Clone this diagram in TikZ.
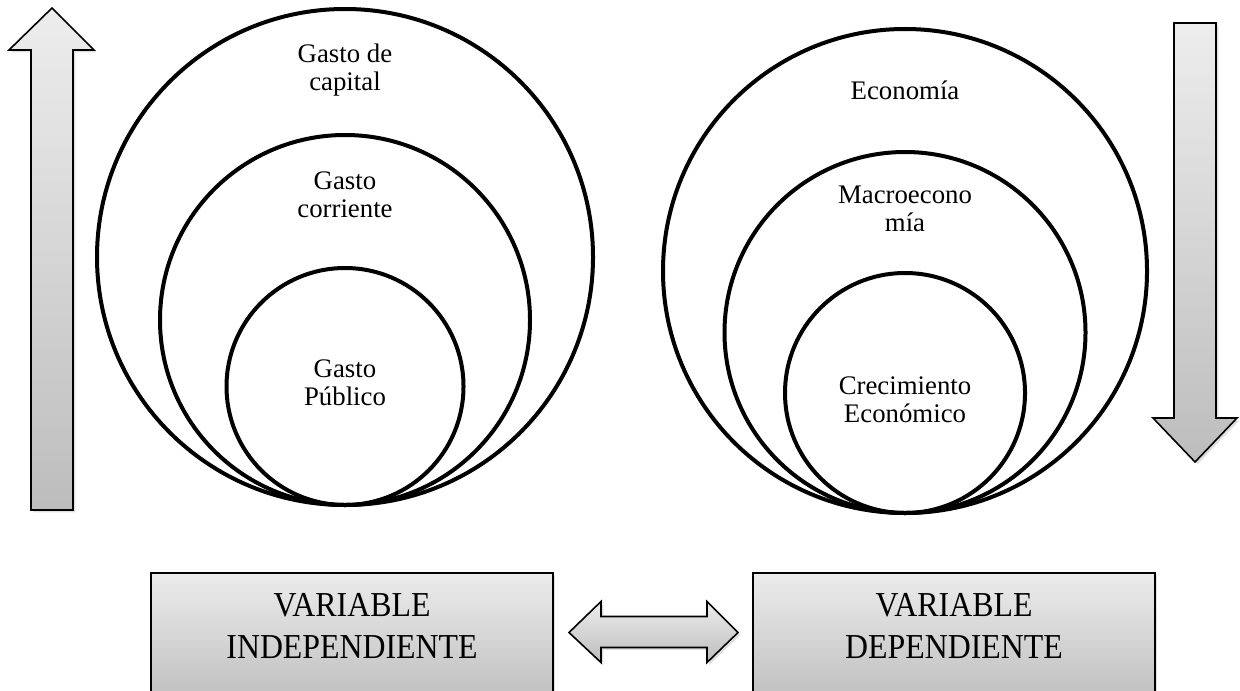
\documentclass[tikz,border=0pt]{standalone}
\usepackage{fontspec}
\setmainfont{Liberation Serif}
\newfontfamily\textofont{Liberation Serif}
\newfontfamily\cajafont[FakeStretch=0.91]{Liberation Serif}
\usetikzlibrary{calc,shadows}

\begin{document}
\begin{tikzpicture}[x=0.5pt, y=-0.5pt,
    aro/.style={draw=black, line width=2pt},
    etiqueta/.style={align=center, inner sep=0pt, font=\textofont\fontsize{13.4}{14}\selectfont},
    flecha/.style={draw=black, line width=0.8pt, line join=miter, top color=gray!14, bottom color=gray!52,
        drop shadow={opacity=0.25, shadow xshift=1.2pt, shadow yshift=-1.2pt}},
    caja/.style={rectangle, draw=black, line width=0.85pt, outer sep=0pt, minimum width=201pt, minimum height=59.5pt,
        top color=gray!15, bottom color=gray!48, drop shadow={opacity=0.25, shadow xshift=1.2pt, shadow yshift=-1.2pt}},
    cajatexto/.style={align=center, inner sep=0pt, font=\cajafont\fontsize{17.5}{21}\selectfont}]
    % 画布大小
    \path[use as bounding box, clip] (0,0) rectangle (1240,690);

    % 左边向上的箭头
    \draw[flecha] (52,8) -- (94,50) -- (73,50) -- (73,510) -- (31,510) -- (31,50) -- (9,50) -- cycle;

    % 右边向下的箭头
    \draw[flecha] (1174,23) -- (1216,23) -- (1216,418) -- (1237,418) -- (1195,462) -- (1153,418) -- (1174,418) -- cycle;

    % 左边的三个圆
    \draw[aro] (345,257) circle[radius=248];
    \draw[aro] (345,320) circle[radius=185];
    \draw[aro] (345,386.5) circle[radius=118.5];

    % 右边的三个圆
    \draw[aro] (905,271) circle[radius=242];
    \draw[aro] (905,332.5) circle[radius=180.5];
    \draw[aro] (905,393) circle[radius=120];

    % 圆里的文字
    \node[etiqueta] (capital) at (345,70) {Gasto de\\capital};
    \node[etiqueta] (corriente) at (345,195) {Gasto\\corriente};
    \node[etiqueta] (publico) at (345,383) {Gasto\\Público};
    \node[etiqueta] (economia) at (905,90) {Economía};
    \node[etiqueta] (macro) at (905,209) {Macroecono\\mía};
    \node[etiqueta] (crecimiento) at (905,400) {Crecimiento\\Económico};

    % 下面的两个方框
    \node[caja] (indep) at (352,632.5) {};
    \node[caja] (dep) at (954,632.5) {};
    \node[cajatexto] (indeptxt) at (352,626) {VARIABLE\\INDEPENDIENTE};
    \node[cajatexto] (deptxt) at (954,626) {VARIABLE\\DEPENDIENTE};

    % 两个方框之间的双向箭头
    \coordinate (p) at ($(indep.east)+(16,0)$);
    \coordinate (q) at ($(dep.west)+(-15,0)$);
    \draw[flecha] (p) -- ++(32,-31) -- ++(0,15) -- ($(q)+(-31,-16)$) -- ++(0,-15) -- (q)
        -- ++(-31,30) -- ++(0,-15) -- ($(p)+(32,15)$) -- ++(0,15) -- cycle;
\end{tikzpicture}
\end{document}
